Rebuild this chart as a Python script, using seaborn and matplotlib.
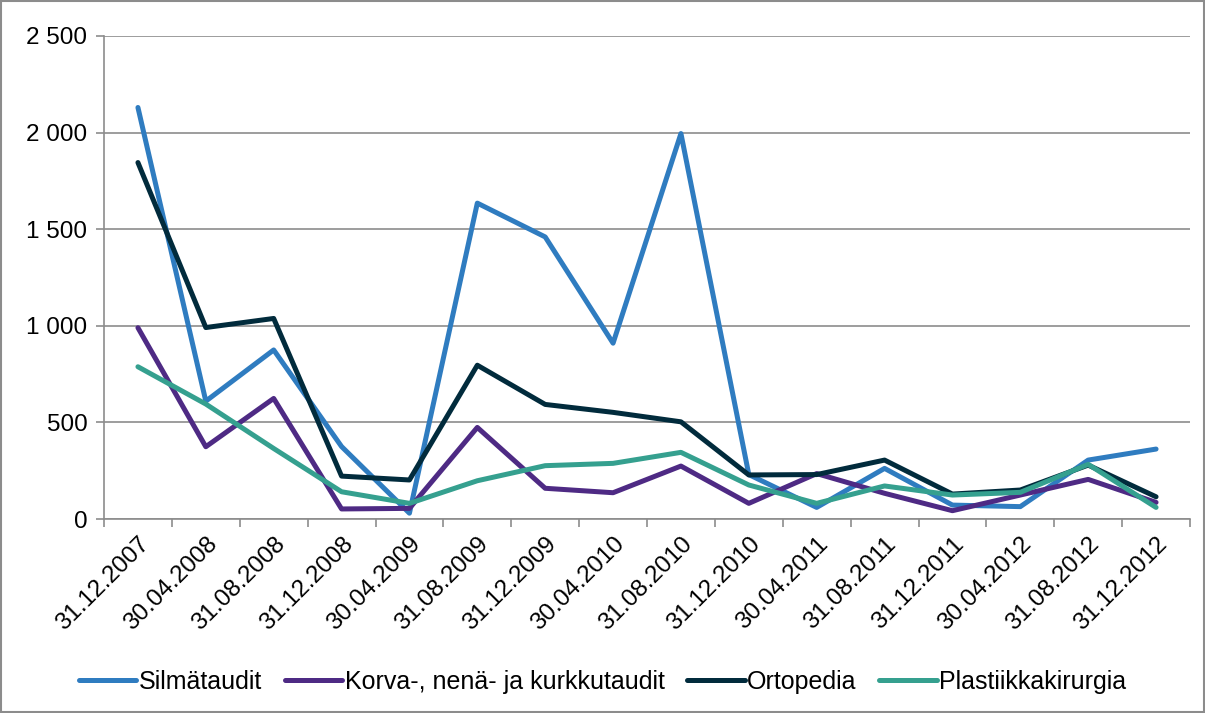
import pandas as pd
import seaborn as sns
import matplotlib.pyplot as plt
from matplotlib.patches import Rectangle
from matplotlib.ticker import FuncFormatter, FixedLocator

dates = ['31.12.2007', '30.04.2008', '31.08.2008', '31.12.2008', '30.04.2009',
         '31.08.2009', '31.12.2009', '30.04.2010', '31.08.2010', '31.12.2010',
         '30.04.2011', '31.08.2011', '31.12.2011', '30.04.2012', '31.08.2012',
         '31.12.2012']

silmataudit = [2130, 610, 875, 375, 30, 1635, 1460, 910, 1995, 230,
               60, 262, 72, 64, 305, 362]
korva = [990, 374, 624, 52, 55, 474, 159, 136, 274, 81,
         235, 133, 43, 124, 205, 86]
ortopedia = [1845, 991, 1038, 222, 202, 796, 593, 552, 503, 228,
             230, 305, 129, 150, 279, 115]
plastiikka = [788, 595, 365, 141, 81, 198, 276, 288, 345, 176,
              81, 171, 124, 138, 283, 60]

series = {
    'Silmätaudit': silmataudit,
    'Korva-, nenä- ja kurkkutaudit': korva,
    'Ortopedia': ortopedia,
    'Plastiikkakirurgia': plastiikka,
}
colors = ['#2F7CC0', '#4E2A84', '#012B3C', '#35A08F']

# long-form table for seaborn
rows = []
for name, vals in series.items():
    for i, v in enumerate(vals):
        rows.append({'idx': i, 'value': v, 'series': name})
df = pd.DataFrame(rows)

sns.set_style('white')
plt.rcParams['font.family'] = ['Liberation Sans', 'DejaVu Sans']
plt.rcParams['text.color'] = 'black'

fig = plt.figure(figsize=(12.05, 7.13), dpi=100)
ax = fig.add_axes([104 / 1205, 1 - 519 / 713, (1190 - 104) / 1205, (519 - 36) / 713])

sns.lineplot(data=df, x='idx', y='value', hue='series', palette=colors,
             linewidth=3.6, sort=False, ax=ax, legend=True)

ax.set_xlim(-0.5, len(dates) - 0.5)
ax.set_ylim(0, 2500)
ax.set_yticks(range(0, 2501, 500))
ax.yaxis.set_major_formatter(FuncFormatter(lambda v, p: f'{int(v):,}'.replace(',', ' ')))
ax.grid(axis='y', color='#8C8C8C', linewidth=1.2)
ax.grid(axis='x', visible=False)

ax.set_xticks(range(len(dates)))
ax.set_xticklabels(dates, rotation=45, ha='right', rotation_mode='anchor')
ax.xaxis.set_minor_locator(FixedLocator([i - 0.5 for i in range(len(dates) + 1)]))
ax.tick_params(axis='x', which='major', length=0, pad=10, labelsize=17.5, labelcolor='black')
ax.tick_params(axis='x', which='minor', length=6, width=1.2, color='#8C8C8C', direction='out', bottom=True)
ax.tick_params(axis='y', length=6, width=1.2, color='#8C8C8C', direction='out', left=True,
               labelsize=17.5, labelcolor='black', pad=6)

for s in ['top', 'right']:
    ax.spines[s].set_visible(False)
for s in ['left', 'bottom']:
    ax.spines[s].set_color('#8C8C8C')
    ax.spines[s].set_linewidth(1.2)

ax.set_xlabel('')
ax.set_ylabel('')

handles, labels = ax.get_legend_handles_labels()
leg = ax.legend(handles, labels, loc='center', bbox_to_anchor=(0.5, 1 - 682 / 713),
                bbox_transform=fig.transFigure, ncol=4, frameon=False, fontsize=18,
                handlelength=2.3, handletextpad=0.1, columnspacing=0.9)
for t in leg.get_texts():
    t.set_color('black')

fig.patches.append(Rectangle((0.001, 0.001), 0.998, 0.998, transform=fig.transFigure,
                             fill=False, edgecolor='#8C8C8C', linewidth=1.5))

fig.savefig('out.png', dpi=100)
